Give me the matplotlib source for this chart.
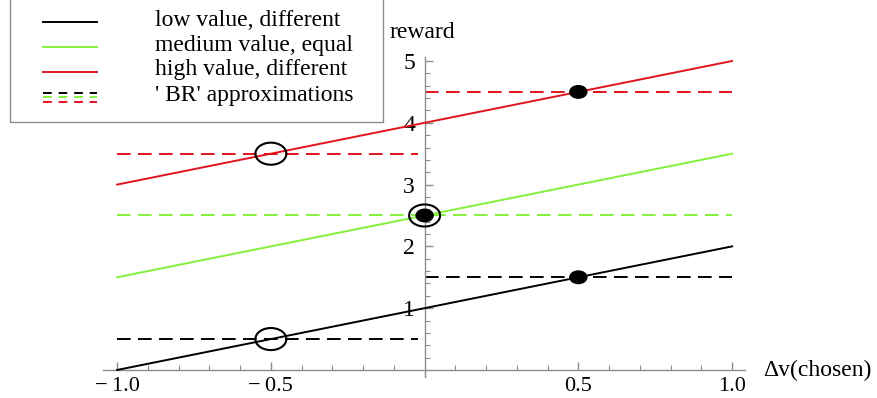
import numpy as np
import matplotlib.pyplot as plt
from matplotlib.patches import Ellipse, Rectangle
from matplotlib.lines import Line2D

plt.rcParams['font.family'] = ['Liberation Serif', 'DejaVu Serif']

# reward lines over delta v(chosen)
x_ends = [-1.0, 1.0]
low_y = [0.0, 2.0]
medium_y = [1.5, 3.5]
high_y = [3.0, 5.0]

# 'BR' approximations: (x start, x end, level)
low_br = [(-1.0, -0.02, 0.5), (0.0, 1.0, 1.5)]
medium_br = [(-1.0, 1.0, 2.5)]
high_br = [(-1.0, -0.02, 3.5), (0.0, 1.0, 4.5)]

open_x = [-0.5, -0.5, 0.0]
open_y = [0.5, 3.5, 2.5]
filled_x = [0.5, 0.5, 0.0]
filled_y = [1.5, 4.5, 2.5]

legend_labels = ["low value, different", "medium value, equal",
                 "high value, different", "' BR' approximations"]

BLACK = 'black'
GREEN = '#84f03c'
RED = '#e0141c'
dash = (7, 3.8)

fig = plt.figure(figsize=(8.78, 3.98), dpi=100)
W, H = 878.0, 398.0
ax = fig.add_axes([103 / W, 1 - 377 / H, (745 - 103) / W, (377 - 57) / H])
ax.set_xlim(-1.046, 1.042)
ax.set_ylim(-0.114, 5.065)

for ys, c in [(low_y, BLACK), (medium_y, GREEN), (high_y, RED)]:
    ax.plot(x_ends, ys, color=c, lw=1.4, zorder=3)

for segs, c in [(low_br, BLACK), (medium_br, GREEN), (high_br, RED)]:
    for x0, x1, lv in segs:
        ax.plot([x0, x1], [lv, lv], color=c, lw=1.4, dashes=dash, zorder=2)

# ellipses in pixel size converted to data units
sx = 307.5
sy = 61.6
for xo, yo in zip(open_x, open_y):
    ax.add_patch(Ellipse((xo, yo), 31 / sx, 22 / sy, fill=False,
                         ec='black', lw=1.5, zorder=5))
for xf, yf in zip(filled_x, filled_y):
    ax.add_patch(Ellipse((xf, yf), 17 / sx, 12.5 / sy, fc='black',
                         ec='black', lw=1, zorder=6))

for s in ['top', 'right']:
    ax.spines[s].set_visible(False)
ax.spines['left'].set_position(('data', 0))
ax.spines['bottom'].set_position(('data', 0))
for s in ['left', 'bottom']:
    ax.spines[s].set_color('#8c8c8c')
    ax.spines[s].set_linewidth(1.0)

ax.set_xticks([-1.0, -0.5, 0.5, 1.0])
ax.set_xticklabels(['\u2212\u20091.0', '\u2212\u20090.5', '0.5', '1.0'])
ax.set_xticks([v for v in np.arange(-1.0, 1.01, 0.1) if abs(v) > 1e-6], minor=True)
ax.set_yticks([1, 2, 3, 4, 5])
ax.set_yticks([v for v in np.arange(0.2, 5.01, 0.2)], minor=True)
ax.tick_params(which='both', direction='in', color='#8c8c8c', labelsize=17)
ax.tick_params(axis='x', labelsize=16)
ax.tick_params(which='major', length=6, width=1)
ax.tick_params(which='minor', length=3.5, width=0.8)
ax.tick_params(axis='x', pad=5)
ax.tick_params(axis='y', pad=7)

fig.text(390 / W, 1 - 32 / H, 'reward', fontsize=17, va='center', ha='left')
fig.text(763 / W, 1 - 370 / H, '\u0394v(chosen)', fontsize=17, va='center', ha='left')

# legend box
fig.patches.append(Rectangle((10 / W, 1 - 122 / H), (383 - 10) / W, 130 / H,
                             transform=fig.transFigure, fill=False,
                             ec='#8c8c8c', lw=1.0))
rows = [20, 45, 70, 95]
for i, (lab, c) in enumerate(zip(legend_labels[:3], [BLACK, GREEN, RED])):
    yy = 1 - (rows[i] + 2) / H
    fig.lines.append(Line2D([43 / W, 97 / W], [yy, yy], color=c, lw=1.4,
                            transform=fig.transFigure))
for off, c in [(-4.5, BLACK), (0, GREEN), (4.5, RED)]:
    yy = 1 - (rows[3] + 2 + off) / H
    fig.lines.append(Line2D([43 / W, 97 / W], [yy, yy], color=c, lw=1.4,
                            dashes=(4.5, 3.5), transform=fig.transFigure))
for i, lab in enumerate(legend_labels):
    fig.text(155 / W, 1 - rows[i] / H, lab, fontsize=17, va='center', ha='left')

fig.savefig('out.png', dpi=100)
